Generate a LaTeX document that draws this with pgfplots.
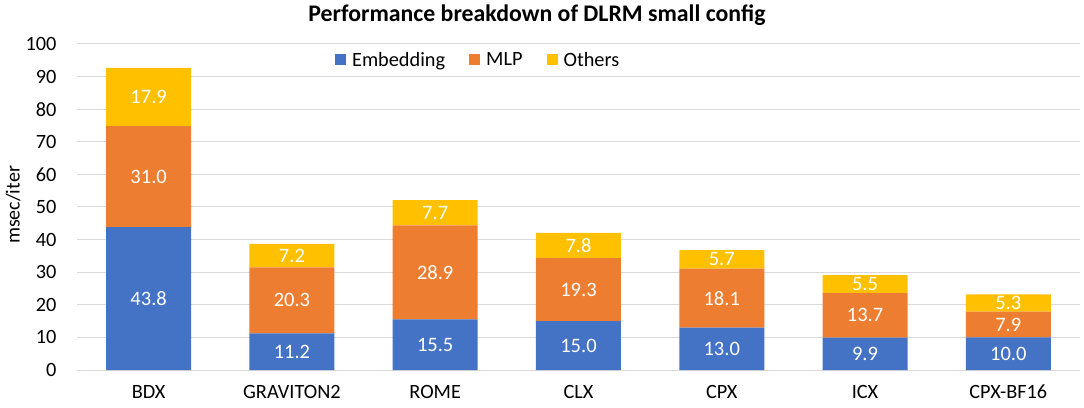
\documentclass[border=0pt]{standalone}
\usepackage{pgfplots}
\pgfplotsset{compat=1.18}
\usepackage{fontspec}
\setmainfont{Carlito}
\definecolor{cEmb}{HTML}{4472C4}
\definecolor{cMlp}{HTML}{ED7D31}
\definecolor{cOth}{HTML}{FFC000}
\definecolor{cGrid}{HTML}{D9D9D9}
\begin{document}
\begin{tikzpicture}[x=1pt,y=1pt]
\path[use as bounding box] (0,0) rectangle (1084,407);
\node[font=\fontsize{23.8}{28}\selectfont\bfseries] at (537,392) {Performance breakdown of DLRM small config};
\node[rotate=90,font=\fontsize{20}{24}\selectfont] at (13,202) {msec/iter};
\begin{axis}[
  at={(77pt,37pt)}, anchor=south west,
  scale only axis, width=1003pt, height=326pt,
  xmin=-0.5, xmax=6.5, ymin=0, ymax=100,
  ybar stacked, bar width=85pt,
  xtick={0,...,6},
  xticklabels={BDX,GRAVITON2,ROME,CLX,CPX,ICX,CPX-BF16},
  ytick={0,10,...,100},
  axis x line*=bottom, axis y line*=left,
  x axis line style={cGrid, line width=1pt},
  y axis line style={draw=none},
  ymajorgrids, grid style={cGrid, line width=1pt},
  major tick length=0pt,
  tick label style={font=\fontsize{20.3}{24}\selectfont},
  /pgf/number format/assume math mode=true,
  yticklabel style={xshift=-17pt},
  xticklabel style={yshift=-14pt, inner sep=1pt},
  nodes near coords,
  point meta=rawy,
  every node near coord/.append style={anchor=center, text=white,
     font=\fontsize{20.5}{24}\selectfont,
     /pgf/number format/fixed, /pgf/number format/fixed zerofill, /pgf/number format/precision=1,
     /pgf/number format/assume math mode=true},
  legend style={at={(0.40,0.951)}, anchor=center, draw=none, fill=none,
     legend columns=3, font=\fontsize{20.3}{24}\selectfont,
     /tikz/every even column/.append style={column sep=22pt},
     /tikz/every odd column/.append style={column sep=4pt}},
  legend image code/.code={\fill[#1] (0pt,-5.5pt) rectangle (11pt,5.5pt);},
]
\addplot[fill=cEmb, draw=none] coordinates {(0,43.8) (1,11.2) (2,15.5) (3,15.0) (4,13.0) (5,9.9) (6,10.0)};
\addplot[fill=cMlp, draw=none] coordinates {(0,31.0) (1,20.3) (2,28.9) (3,19.3) (4,18.1) (5,13.7) (6,7.9)};
\addplot[fill=cOth, draw=none] coordinates {(0,17.9) (1,7.2) (2,7.7) (3,7.8) (4,5.7) (5,5.5) (6,5.3)};
\legend{Embedding,MLP,Others}
\end{axis}
\end{tikzpicture}
\end{document}
